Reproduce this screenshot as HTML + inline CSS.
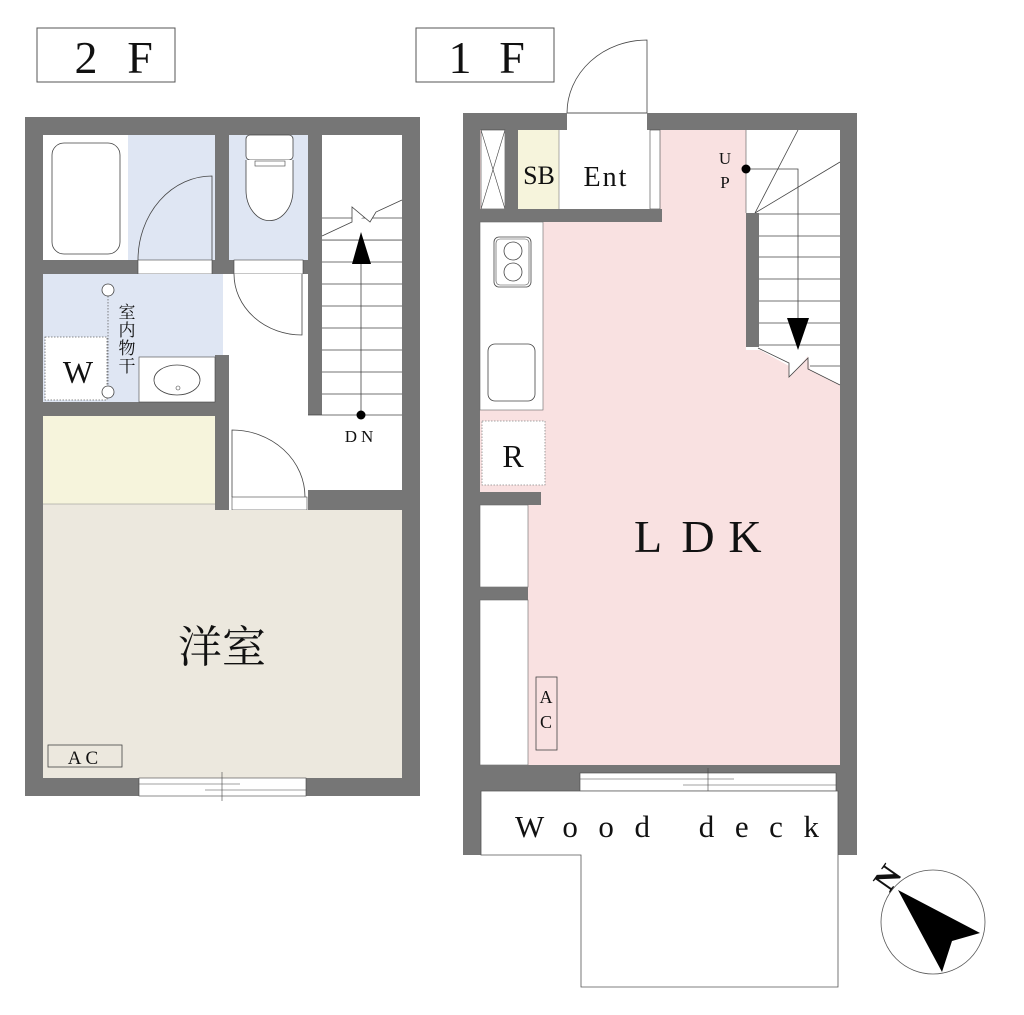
<!DOCTYPE html>
<html><head><meta charset="utf-8"><style>
html,body{margin:0;padding:0;background:#fff;}
svg{display:block;}
text{font-family:"Liberation Serif","Noto Serif CJK SC",serif;fill:#111;}
</style></head><body>
<svg width="1024" height="1015" viewBox="0 0 1024 1015" xmlns="http://www.w3.org/2000/svg">
<!-- Titles -->
<rect x="37" y="28" width="138" height="54" fill="#fff" stroke="#555" stroke-width="1"/>
<text x="86" y="73" font-size="46" text-anchor="middle">2</text>
<text x="140" y="73" font-size="46" text-anchor="middle">F</text>
<rect x="416" y="28" width="138" height="54" fill="#fff" stroke="#555" stroke-width="1"/>
<text x="460" y="73" font-size="46" text-anchor="middle">1</text>
<text x="512" y="73" font-size="46" text-anchor="middle">F</text>

<!-- ===== 2F ===== -->
<rect x="25" y="117" width="395" height="679" fill="#767676"/>
<rect x="43" y="135" width="85" height="125" fill="#fff"/>
<rect x="52" y="143" width="68" height="111" rx="12" fill="#fff" stroke="#444" stroke-width="0.8"/>
<rect x="128" y="135" width="87" height="125" fill="#dfe6f3"/>
<path d="M138 260 A74 84 0 0 1 212 176 L212 260" fill="none" stroke="#444" stroke-width="0.8"/>
<rect x="138" y="260" width="74" height="14" fill="#fff" stroke="#444" stroke-width="0.6"/>
<rect x="229" y="135" width="79" height="125" fill="#dfe6f3"/>
<rect x="246" y="135" width="47" height="25" rx="4" fill="#fff" stroke="#444" stroke-width="0.8"/>
<path d="M246 160 L246 190 A23 30 0 0 0 293 190 L293 160" fill="#fff" stroke="#444" stroke-width="0.8"/>
<rect x="255" y="161" width="30" height="5" fill="#fff" stroke="#444" stroke-width="0.6"/>
<rect x="234" y="260" width="69" height="14" fill="#fff" stroke="#444" stroke-width="0.6"/>
<rect x="322" y="135" width="80" height="280" fill="#fff"/>
<rect x="308" y="274" width="94" height="216" fill="#fff"/>
<rect x="308" y="274" width="14" height="141" fill="#767676"/>
<rect x="223" y="274" width="85" height="236" fill="#fff"/>
<path d="M234 274 A68 61 0 0 0 302 335 L302 274" fill="none" stroke="#444" stroke-width="0.8"/>
<g stroke="#444" stroke-width="0.8">
<line x1="322" y1="218" x2="402" y2="218"/><line x1="322" y1="240" x2="402" y2="240"/>
<line x1="322" y1="262" x2="402" y2="262"/><line x1="322" y1="284" x2="402" y2="284"/>
<line x1="322" y1="306" x2="402" y2="306"/><line x1="322" y1="328" x2="402" y2="328"/>
<line x1="322" y1="350" x2="402" y2="350"/><line x1="322" y1="372" x2="402" y2="372"/>
<line x1="322" y1="394" x2="402" y2="394"/><line x1="308" y1="415" x2="402" y2="415"/>
</g>
<rect x="322" y="200" width="80" height="17" fill="#fff"/>
<path d="M322 236 L352 222 L352 207 L370 222 L376 212 L402 200" fill="#fff" stroke="#444" stroke-width="0.8"/>
<rect x="322" y="237" width="80" height="3" fill="#fff"/>
<line x1="322" y1="240" x2="402" y2="240" stroke="#444" stroke-width="0.8"/>
<line x1="361" y1="415" x2="361" y2="250" stroke="#444" stroke-width="0.8"/>
<polygon points="352,264 361,232 371,264" fill="#000"/>
<circle cx="361" cy="415" r="4.5" fill="#000"/>
<text x="361" y="442" font-size="17" text-anchor="middle" letter-spacing="4">DN</text>
<rect x="43" y="274" width="180" height="128" fill="#dfe6f3"/>
<rect x="215" y="355" width="14" height="155" fill="#767676"/>
<rect x="139" y="357" width="76" height="45" fill="#fff" stroke="#444" stroke-width="0.6"/>
<ellipse cx="177" cy="380" rx="23" ry="15" fill="none" stroke="#444" stroke-width="0.8"/>
<circle cx="178" cy="388" r="2" fill="none" stroke="#444" stroke-width="0.6"/>
<rect x="45" y="337" width="62" height="63" fill="#fff" stroke="#666" stroke-width="0.8" stroke-dasharray="1.5,1.5"/>
<text x="78" y="383" font-size="32" text-anchor="middle">W</text>
<line x1="108" y1="293" x2="108" y2="392" stroke="#666" stroke-width="0.8" stroke-dasharray="1.5,1.5"/>
<circle cx="108" cy="290" r="6" fill="#fff" stroke="#444" stroke-width="0.8"/>
<circle cx="108" cy="392" r="6" fill="#fff" stroke="#444" stroke-width="0.8"/>
<g font-size="17"><text x="127" y="318" text-anchor="middle">室</text><text x="127" y="336" text-anchor="middle">内</text><text x="127" y="354" text-anchor="middle">物</text><text x="127" y="372" text-anchor="middle">干</text></g>
<rect x="43" y="416" width="172" height="88" fill="#f6f4dc"/>
<path d="M232 497 L232 430 A73 67 0 0 1 305 497" fill="none" stroke="#444" stroke-width="0.8"/>
<rect x="232" y="497" width="75" height="13" fill="#fff" stroke="#444" stroke-width="0.6"/>
<rect x="43" y="504" width="172" height="274" fill="#ece8de"/>
<rect x="215" y="510" width="187" height="268" fill="#ece8de"/>
<line x1="43" y1="504" x2="215" y2="504" stroke="#888" stroke-width="0.6"/>
<text x="222" y="662" font-size="44" text-anchor="middle">洋室</text>
<rect x="48" y="745" width="74" height="22" fill="none" stroke="#444" stroke-width="0.8"/>
<text x="85" y="764" font-size="19" text-anchor="middle" letter-spacing="4">AC</text>
<rect x="139" y="778" width="167" height="18" fill="#fff" stroke="#444" stroke-width="0.6"/>
<line x1="139" y1="784" x2="240" y2="784" stroke="#444" stroke-width="0.6"/>
<line x1="205" y1="790" x2="306" y2="790" stroke="#444" stroke-width="0.6"/>
<line x1="222" y1="772" x2="222" y2="801" stroke="#444" stroke-width="0.6"/>

<!-- ===== 1F ===== -->
<rect x="463" y="113" width="394" height="742" fill="#767676"/>
<rect x="480" y="130" width="360" height="635" fill="#f9e1e1"/>
<rect x="481" y="130" width="24" height="79" fill="#fff" stroke="#444" stroke-width="0.6"/>
<line x1="481" y1="130" x2="505" y2="209" stroke="#444" stroke-width="0.6"/>
<line x1="505" y1="130" x2="481" y2="209" stroke="#444" stroke-width="0.6"/>
<rect x="505" y="130" width="13" height="79" fill="#767676"/>
<rect x="518" y="130" width="41" height="79" fill="#f6f4dc"/>
<rect x="559" y="130" width="91" height="79" fill="#fff"/>
<line x1="559" y1="130" x2="559" y2="209" stroke="#777" stroke-width="0.6"/>
<rect x="650" y="130" width="10" height="79" fill="#fff" stroke="#444" stroke-width="0.6"/>
<text x="539" y="184" font-size="26" text-anchor="middle">SB</text>
<text x="606" y="186" font-size="28" text-anchor="middle" letter-spacing="2">Ent</text>
<rect x="480" y="209" width="182" height="13" fill="#767676"/>
<rect x="567" y="113" width="80" height="17" fill="#fff"/>
<line x1="567" y1="113" x2="647" y2="113" stroke="#222" stroke-width="0.8"/>
<path d="M567 113 A80 73 0 0 1 647 40 L647 113" fill="none" stroke="#444" stroke-width="0.8"/>
<rect x="480" y="222" width="63" height="188" fill="#fff" stroke="#666" stroke-width="0.6"/>
<rect x="494" y="237" width="37" height="50" rx="5" fill="#fff" stroke="#444" stroke-width="0.8"/>
<rect x="496" y="239" width="33" height="46" rx="4" fill="none" stroke="#444" stroke-width="0.6"/>
<circle cx="513" cy="251" r="9" fill="none" stroke="#444" stroke-width="0.8"/>
<circle cx="513" cy="272" r="9" fill="none" stroke="#444" stroke-width="0.8"/>
<rect x="488" y="344" width="47" height="57" rx="7" fill="#fff" stroke="#444" stroke-width="0.8"/>
<rect x="482" y="421" width="63" height="64" fill="#fff" stroke="#888" stroke-width="0.8" stroke-dasharray="1.5,1.5"/>
<text x="513" y="467" font-size="32" text-anchor="middle">R</text>
<rect x="480" y="492" width="61" height="13" fill="#767676"/>
<rect x="480" y="505" width="48" height="82" fill="#fff" stroke="#666" stroke-width="0.6"/>
<rect x="480" y="587" width="48" height="13" fill="#767676"/>
<rect x="480" y="600" width="48" height="165" fill="#fff" stroke="#666" stroke-width="0.6"/>
<g font-size="46" text-anchor="middle">
<text x="648" y="552">L</text><text x="698" y="552">D</text><text x="745" y="552">K</text>
</g>
<rect x="536" y="677" width="21" height="73" fill="none" stroke="#444" stroke-width="0.8"/>
<text x="546" y="703" font-size="18" text-anchor="middle">A</text>
<text x="546" y="728" font-size="18" text-anchor="middle">C</text>
<path d="M746 130 L840 130 L840 385 L810 370 L808 356 L789 378 L789 366 L760 350 L746 350 Z" fill="#fff"/>
<line x1="746" y1="130" x2="746" y2="213" stroke="#555" stroke-width="0.6"/>
<g stroke="#444" stroke-width="0.8">
<line x1="759" y1="214" x2="840" y2="214"/><line x1="759" y1="236" x2="840" y2="236"/>
<line x1="759" y1="257" x2="840" y2="257"/><line x1="759" y1="279" x2="840" y2="279"/>
<line x1="759" y1="301" x2="840" y2="301"/><line x1="759" y1="323" x2="840" y2="323"/>
<line x1="759" y1="345" x2="840" y2="345"/><line x1="810" y1="366" x2="840" y2="366"/>
<line x1="755" y1="213" x2="798" y2="130"/><line x1="755" y1="213" x2="840" y2="162"/>
<path d="M758 348 L789 363 L789 377 L808 358 L808 369 L840 385" fill="none"/>
<polyline points="746,169 798,169 798,330" fill="none"/>
</g>
<rect x="746" y="213" width="13" height="134" fill="#767676"/>
<polygon points="787,318 809,318 798,350" fill="#000"/>
<circle cx="746" cy="169" r="4.5" fill="#000"/>
<text x="725" y="164" font-size="17" text-anchor="middle">U</text>
<text x="725" y="188" font-size="17" text-anchor="middle">P</text>
<rect x="480" y="765" width="100" height="26" fill="#767676"/>
<rect x="580" y="773" width="256" height="18" fill="#fff" stroke="#444" stroke-width="0.6"/>
<line x1="580" y1="779" x2="734" y2="779" stroke="#444" stroke-width="0.6"/>
<line x1="683" y1="785" x2="836" y2="785" stroke="#444" stroke-width="0.6"/>
<line x1="708" y1="768" x2="708" y2="796" stroke="#444" stroke-width="0.6"/>
<path d="M481 791 L838 791 L838 987 L581 987 L581 855 L481 855 Z" fill="#fff" stroke="#555" stroke-width="0.8"/>
<text x="515" y="837" font-size="31" textLength="304" lengthAdjust="spacing">Wood deck</text>
<circle cx="933" cy="922" r="52" fill="#fff" stroke="#555" stroke-width="0.8"/>
<polygon points="898,890 980,933 952,941 942,972" fill="#000"/>
<text x="888" y="888" font-size="32" text-anchor="middle" transform="rotate(-55 888 878)" font-weight="bold">N</text>
</svg>
</body></html>
